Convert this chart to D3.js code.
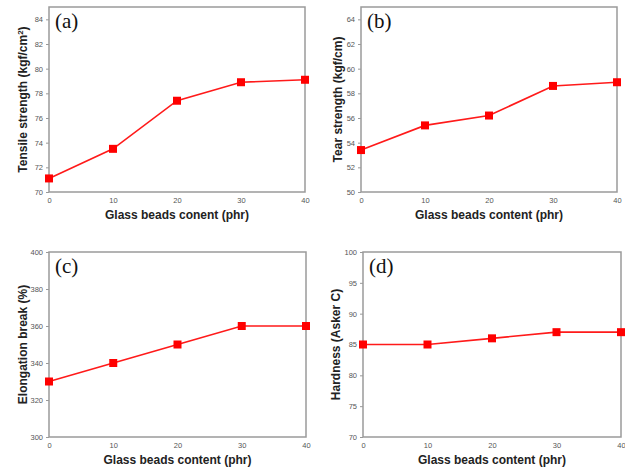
<!DOCTYPE html>
<html>
<head>
<meta charset="utf-8">
<script src="https://cdn.jsdelivr.net/npm/d3@7"></script>
<style>
  body { margin: 0; background: #fff; }
  svg { display: block; }
</style>
</head>
<body>
<div id="chart"></div>
<script>
// data
const beads = [0, 10, 20, 30, 40];
const tensile = [71.1, 73.5, 77.4, 78.9, 79.1];
const tear = [53.4, 55.4, 56.2, 58.6, 58.9];
const elongation = [330, 340, 350, 360, 360];
const hardness = [85, 85, 86, 87, 87];

const tensileTicks = [70, 72, 74, 76, 78, 80, 82, 84];
const tearTicks = [50, 52, 54, 56, 58, 60, 62, 64];
const elongTicks = [300, 320, 340, 360, 380, 400];
const hardTicks = [70, 75, 80, 85, 90, 95, 100];
const xTicks = [0, 10, 20, 30, 40];

const W = 625, H = 469;
let svg = d3.select("#chart").append("svg")
    .attr("width", W)
    .attr("height", H);

let panels = [
    {tag: "(a)", vals: tensile, dom: [70, 85], ticks: tensileTicks,
     box: [49, 7, 305, 192], ylab: "Tensile strength (kgf/cm", sup: true,
     xlab: "Glass beads conent (phr)", ylx: 23},
    {tag: "(b)", vals: tear, dom: [50, 65], ticks: tearTicks,
     box: [361, 7, 617, 192], ylab: "Tear strength (kgf/cm)",
     xlab: "Glass beads content (phr)", ylx: 338},
    {tag: "(c)", vals: elongation, dom: [300, 400], ticks: elongTicks,
     box: [49, 252, 306, 437], ylab: "Elongation break (%)",
     xlab: "Glass beads content (phr)", ylx: 23},
    {tag: "(d)", vals: hardness, dom: [70, 100], ticks: hardTicks,
     box: [363, 252, 621, 437], ylab: "Hardness (Asker C)",
     xlab: "Glass beads content (phr)", ylx: 336}
];

panels.forEach(function(p) {
    let [x0, y0, x1, y1] = p.box;
    let x = d3.scaleLinear().domain([0, 40]).range([x0, x1]);
    let y = d3.scaleLinear().domain(p.dom).range([y1, y0]);
    let g = svg.append("g");

    // y axis
    let ya = g.append("g")
        .attr("transform", "translate(" + x0 + ",0)")
        .call(d3.axisLeft(y).tickValues(p.ticks).tickSize(3).tickPadding(3));
    // x axis
    let xa = g.append("g")
        .attr("transform", "translate(0," + y1 + ")")
        .call(d3.axisBottom(x).tickValues(xTicks).tickSize(0).tickPadding(6));
    [ya, xa].forEach(function(a) {
        a.select(".domain").remove();
        a.selectAll("line").attr("stroke", "#999");
        a.selectAll("text")
            .attr("fill", "#555")
            .style("font-family", "Liberation Sans, Arial, sans-serif")
            .style("font-size", "7.5px");
    });

    // frame
    g.append("rect")
        .attr("x", x0).attr("y", y0)
        .attr("width", x1 - x0).attr("height", y1 - y0)
        .attr("fill", "none")
        .attr("stroke", "#9a9a9a")
        .attr("stroke-width", 1.5);

    // line
    let line = d3.line()
        .x((d, i) => x(beads[i]))
        .y(d => y(d));
    g.append("path")
        .datum(p.vals)
        .attr("d", line)
        .attr("fill", "none")
        .attr("stroke", "#ff1a1a")
        .attr("stroke-width", 1.6);

    g.selectAll("rect.pt")
        .data(p.vals)
        .enter()
        .append("rect")
        .attr("class", "pt")
        .attr("x", (d, i) => x(beads[i]) - 4)
        .attr("y", d => y(d) - 4)
        .attr("width", 8).attr("height", 8)
        .attr("fill", "#ff0000");

    // panel tag
    g.append("text")
        .attr("x", x0 + 6)
        .attr("y", y0 + 21)
        .style("font-family", "Liberation Serif, Times New Roman, serif")
        .style("font-size", "21px")
        .attr("fill", "#111")
        .text(p.tag);

    // x label
    g.append("text")
        .attr("x", (x0 + x1) / 2)
        .attr("y", y1 + 27)
        .attr("text-anchor", "middle")
        .style("font-family", "Liberation Sans, Arial, sans-serif")
        .style("font-size", "12px")
        .style("font-weight", "bold")
        .attr("fill", "#222")
        .text(p.xlab);

    // y label
    let yl = g.append("text")
        .attr("transform", "translate(" + p.ylx + "," + (y0 + y1) / 2 + ") rotate(-90)")
        .attr("text-anchor", "middle")
        .attr("dy", "0.35em")
        .style("font-family", "Liberation Sans, Arial, sans-serif")
        .style("font-size", "12px")
        .style("font-weight", "bold")
        .attr("fill", "#222")
        .text(p.ylab);
    if (p.sup) {
        yl.append("tspan").attr("baseline-shift", "super").style("font-size", "8px").text("2");
        yl.append("tspan").text(")");
    }
});
</script>
</body>
</html>
